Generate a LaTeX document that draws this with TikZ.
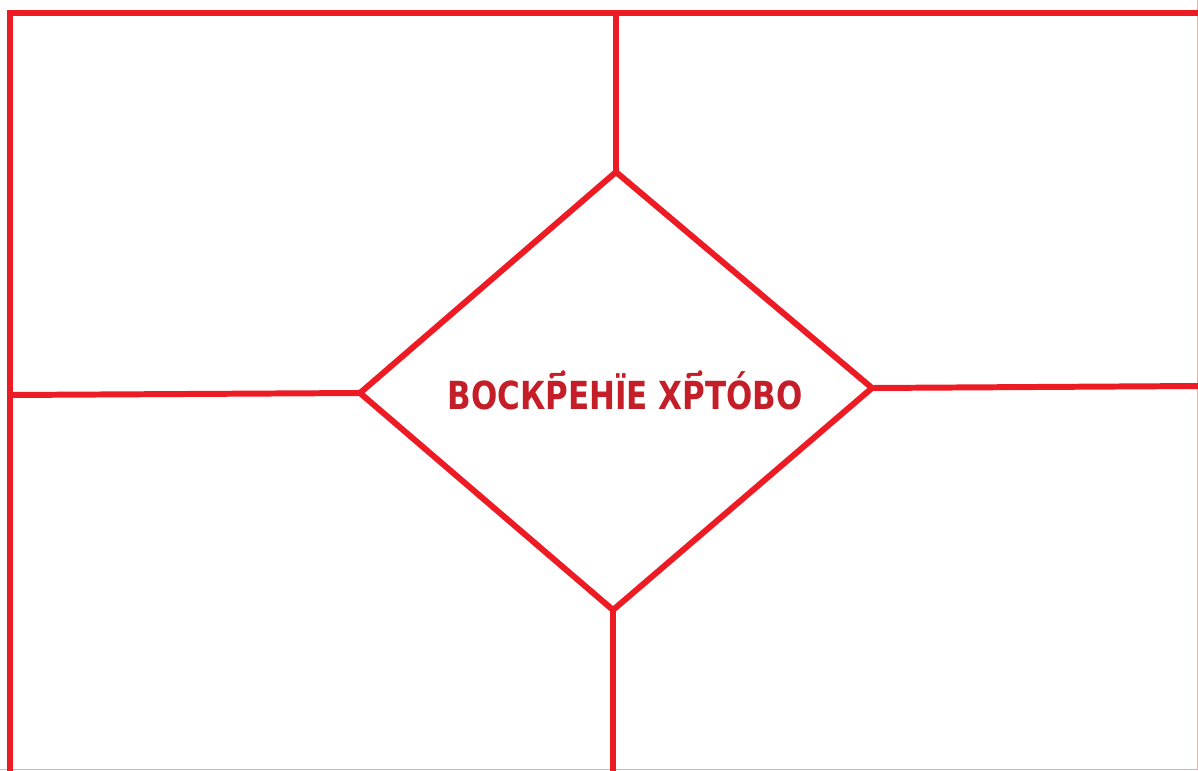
\documentclass[tikz,border=0pt]{standalone}
\usepackage{fontspec}
\newfontfamily\slavfont{DejaVu Sans Condensed}
\definecolor{paintred}{RGB}{237,28,36}
\definecolor{inkred}{RGB}{196,30,40}

\begin{document}
\begin{tikzpicture}[x=0.02cm,y=-0.02cm]
                \tikzset{
                    wall/.style={draw=paintred, line width=3.4pt, line join=miter},
                    edge/.style={draw=paintred!40, line width=0.5pt},
                    title/.style={text=inkred, font=\slavfont\bfseries\fontsize{22}{22}\selectfont, inner sep=0pt}
                }
                \useasboundingbox (0,0) rectangle (1198,771);

                % Corners
                \coordinate (tl) at (10,13);
                \coordinate (tr) at (1198,13);
                \coordinate (bl) at (10,771);
                \coordinate (fbl) at (0,769);
                \coordinate (fbr) at (1197,769);
                \coordinate (ftr) at (1197,0);
                \coordinate (topmid) at (616,13);
                \coordinate (botmid) at (613,771);
                \coordinate (leftmid) at (10,395);
                \coordinate (rightmid) at (1198,386);

                % Diamond
                \coordinate (dn) at (616,172);
                \coordinate (ds) at (613,610);
                \coordinate (dw) at (360,393);
                \coordinate (de) at (872,388);

                % Nodes
                \node[title] (name) at (625,390) {\scalebox{0.89}[1]{ВОСКР҃ЕНЇЕ ХР҃ТО́ВО}};

                % Edges
                \draw[edge] (fbl)--(fbr)--(ftr);
                \draw[wall] (bl)--(tl)--(tr);
                \draw[wall] (topmid)--(dn);
                \draw[wall] (ds)--(botmid);
                \draw[wall] (leftmid)--(dw);
                \draw[wall] (de)--(rightmid);
                \draw[wall] (dn)--(de)--(ds)--(dw)--cycle;
            \end{tikzpicture}
\end{document}
